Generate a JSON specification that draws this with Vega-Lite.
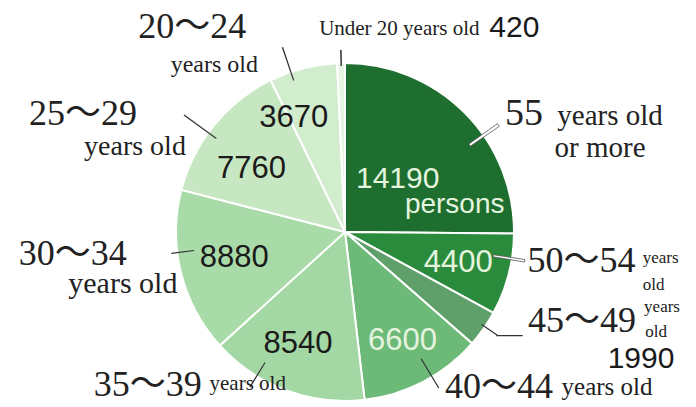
{
  "$schema": "https://vega.github.io/schema/vega-lite/v6.json",
  "width": 690,
  "height": 350,
  "autosize": {"type": "none"},
  "padding": {"left": 0, "top": 57, "right": 6, "bottom": 0},
  "background": "white",
  "view": {"stroke": null},
  "data": {
    "values": [
      {"i": 1, "cat": "55+", "value": 14190, "range": "55", "sub1": "years old", "sub2": "or more", "unit": "persons"},
      {"i": 2, "cat": "50-54", "value": 4400, "range": "50～54", "sub1": "years", "sub2": "old", "unit": ""},
      {"i": 3, "cat": "45-49", "value": 1990, "range": "45～49", "sub1": "years", "sub2": "old", "unit": ""},
      {"i": 4, "cat": "40-44", "value": 6600, "range": "40～44", "sub1": "years old", "sub2": "", "unit": ""},
      {"i": 5, "cat": "35-39", "value": 8540, "range": "35～39", "sub1": "years old", "sub2": "", "unit": ""},
      {"i": 6, "cat": "30-34", "value": 8880, "range": "30～34", "sub1": "years old", "sub2": "", "unit": ""},
      {"i": 7, "cat": "25-29", "value": 7760, "range": "25～29", "sub1": "years old", "sub2": "", "unit": ""},
      {"i": 8, "cat": "20-24", "value": 3670, "range": "20～24", "sub1": "years old", "sub2": "", "unit": ""},
      {"i": 9, "cat": "Under 20", "value": 420, "range": "Under 20 years old", "sub1": "", "sub2": "", "unit": ""}
    ]
  },
  "encoding": {
    "theta": {"field": "value", "type": "quantitative", "stack": true},
    "order": {"field": "i", "type": "quantitative", "sort": "ascending"},
    "detail": {"field": "cat", "type": "nominal"}
  },
  "layer": [
    {"mark": {"type": "arc", "radius": 169, "stroke": "white", "strokeWidth": 2},
     "encoding": {"color": {"field": "cat", "type": "nominal", "legend": null,
       "scale": {"domain": ["55+", "50-54", "45-49", "40-44", "35-39", "30-34", "25-29", "20-24", "Under 20"],
                 "range": ["#1e6e30", "#2b8b3d", "#5f9f69", "#6db978", "#a3d7a3", "#a9dba8", "#c6e7c1", "#d2ecce", "#e6f4e2"]}}}},

    {"transform": [{"stack": "value", "groupby": [], "sort": [{"field": "i", "order": "ascending"}], "as": ["s0", "s1"]}, {"filter": "datum.cat==='55+'"}],
     "mark": {"type": "arc", "radius": 187, "radius2": 152, "thetaOffset": 0.95295, "theta2Offset": 0.97040, "color": "white", "stroke": "#555", "strokeWidth": 0.8},
     "encoding": {"theta": {"field": "s0", "type": "quantitative", "stack": null}, "theta2": {"field": "s0"}}},
    {"transform": [{"stack": "value", "groupby": [], "sort": [{"field": "i", "order": "ascending"}], "as": ["s0", "s1"]}, {"filter": "datum.cat==='50-54'"}],
     "mark": {"type": "arc", "radius": 182, "radius2": 150, "thetaOffset": 0.14322, "theta2Offset": 0.15718, "color": "white", "stroke": "#555", "strokeWidth": 0.8},
     "encoding": {"theta": {"field": "s0", "type": "quantitative", "stack": null}, "theta2": {"field": "s0"}}},
    {"transform": [{"stack": "value", "groupby": [], "sort": [{"field": "i", "order": "ascending"}], "as": ["s0", "s1"]}, {"filter": "datum.cat==='45-49'"}],
     "mark": {"type": "arc", "radius": 184, "radius2": 165, "thetaOffset": 0.09331, "theta2Offset": 0.10029, "color": "#333"},
     "encoding": {"theta": {"field": "s0", "type": "quantitative", "stack": null}, "theta2": {"field": "s0"}}},
    {"transform": [{"stack": "value", "groupby": [], "sort": [{"field": "i", "order": "ascending"}], "as": ["s0", "s1"]}, {"filter": "datum.cat==='40-44'"}],
     "mark": {"type": "arc", "radius": 182, "radius2": 148, "thetaOffset": 0.30639, "theta2Offset": 0.31337, "color": "#333"},
     "encoding": {"theta": {"field": "s0", "type": "quantitative", "stack": null}, "theta2": {"field": "s0"}}},
    {"transform": [{"stack": "value", "groupby": [], "sort": [{"field": "i", "order": "ascending"}], "as": ["s0", "s1"]}, {"filter": "datum.cat==='35-39'"}],
     "mark": {"type": "arc", "radius": 182, "radius2": 153, "thetaOffset": 0.66259, "theta2Offset": 0.66958, "color": "#333"},
     "encoding": {"theta": {"field": "s0", "type": "quantitative", "stack": null}, "theta2": {"field": "s0"}}},
    {"transform": [{"stack": "value", "groupby": [], "sort": [{"field": "i", "order": "ascending"}], "as": ["s0", "s1"]}, {"filter": "datum.cat==='30-34'"}],
     "mark": {"type": "arc", "radius": 175, "radius2": 152, "thetaOffset": 0.61090, "theta2Offset": 0.61788, "color": "#333"},
     "encoding": {"theta": {"field": "s0", "type": "quantitative", "stack": null}, "theta2": {"field": "s0"}}},
    {"transform": [{"stack": "value", "groupby": [], "sort": [{"field": "i", "order": "ascending"}], "as": ["s0", "s1"]}, {"filter": "datum.cat==='25-29'"}],
     "mark": {"type": "arc", "radius": 199, "radius2": 159, "thetaOffset": 0.37301, "theta2Offset": 0.37999, "color": "#333"},
     "encoding": {"theta": {"field": "s0", "type": "quantitative", "stack": null}, "theta2": {"field": "s0"}}},
    {"transform": [{"stack": "value", "groupby": [], "sort": [{"field": "i", "order": "ascending"}], "as": ["s0", "s1"]}, {"filter": "datum.cat==='20-24'"}],
     "mark": {"type": "arc", "radius": 195, "radius2": 160, "thetaOffset": 0.12538, "theta2Offset": 0.13237, "color": "#333"},
     "encoding": {"theta": {"field": "s0", "type": "quantitative", "stack": null}, "theta2": {"field": "s0"}}},
    {"transform": [{"stack": "value", "groupby": [], "sort": [{"field": "i", "order": "ascending"}], "as": ["s0", "s1"]}, {"filter": "datum.cat==='Under 20'"}],
     "mark": {"type": "arc", "radius": 182, "radius2": 166, "thetaOffset": 0.01970, "theta2Offset": 0.02843, "color": "#333"},
     "encoding": {"theta": {"field": "s0", "type": "quantitative", "stack": null}, "theta2": {"field": "s0"}}},
    {"mark": {"type": "text", "radius": 200, "dx": 0.5, "dy": -4, "align": "center", "baseline": "alphabetic", "font": "Liberation Serif", "fontSize": 26, "color": "#333"},
     "encoding": {"text": {"condition": {"test": "datum.cat==='45-49'", "value": "—"}, "value": ""}}},

    {"mark": {"type": "text", "radius": 70, "dx": 3, "dy": 5, "align": "center", "baseline": "alphabetic", "font": "Liberation Sans, sans-serif", "fontSize": 30, "color": "#e4f4df"},
     "encoding": {"text": {"condition": {"test": "datum.cat==='55+'", "field": "value", "type": "nominal"}, "value": ""}}},
    {"mark": {"type": "text", "radius": 70, "dx": 60, "dy": 30, "align": "center", "baseline": "alphabetic", "font": "Liberation Sans, sans-serif", "fontSize": 28, "color": "#e4f4df"},
     "encoding": {"text": {"condition": {"test": "datum.cat==='55+'", "field": "unit", "type": "nominal"}, "value": ""}}},
    {"mark": {"type": "text", "radius": 115, "dx": 2, "dy": 11, "align": "center", "baseline": "alphabetic", "font": "Liberation Sans, sans-serif", "fontSize": 31, "color": "#e4f4df"},
     "encoding": {"text": {"condition": {"test": "datum.cat==='50-54'", "field": "value", "type": "nominal"}, "value": ""}}},
    {"mark": {"type": "text", "radius": 128, "dx": -2, "dy": 5, "align": "center", "baseline": "alphabetic", "font": "Liberation Sans, sans-serif", "fontSize": 31, "color": "#e4f4df"},
     "encoding": {"text": {"condition": {"test": "datum.cat==='40-44'", "field": "value", "type": "nominal"}, "value": ""}}},
    {"mark": {"type": "text", "radius": 125, "dx": -3, "dy": 4, "align": "center", "baseline": "alphabetic", "font": "Liberation Sans, sans-serif", "fontSize": 31, "color": "#1a1a1a"},
     "encoding": {"text": {"condition": {"test": "datum.cat==='35-39'", "field": "value", "type": "nominal"}, "value": ""}}},
    {"mark": {"type": "text", "radius": 112, "dx": -2, "dy": 8, "align": "center", "baseline": "alphabetic", "font": "Liberation Sans, sans-serif", "fontSize": 31, "color": "#1a1a1a"},
     "encoding": {"text": {"condition": {"test": "datum.cat==='30-34'", "field": "value", "type": "nominal"}, "value": ""}}},
    {"mark": {"type": "text", "radius": 105, "dx": -12, "dy": 12, "align": "center", "baseline": "alphabetic", "font": "Liberation Sans, sans-serif", "fontSize": 31, "color": "#1a1a1a"},
     "encoding": {"text": {"condition": {"test": "datum.cat==='25-29'", "field": "value", "type": "nominal"}, "value": ""}}},
    {"mark": {"type": "text", "radius": 110, "dx": -24, "dy": 2, "align": "center", "baseline": "alphabetic", "font": "Liberation Sans, sans-serif", "fontSize": 31, "color": "#1a1a1a"},
     "encoding": {"text": {"condition": {"test": "datum.cat==='20-24'", "field": "value", "type": "nominal"}, "value": ""}}},
    {"mark": {"type": "text", "radius": 200, "dx": 132, "dy": 22, "align": "center", "baseline": "alphabetic", "font": "Liberation Sans, sans-serif", "fontSize": 30, "color": "#1a1a1a"},
     "encoding": {"text": {"condition": {"test": "datum.cat==='45-49'", "field": "value", "type": "nominal"}, "value": ""}}},
    {"mark": {"type": "text", "radius": 200, "dx": 174, "dy": 5, "align": "center", "baseline": "alphabetic", "font": "Liberation Sans, sans-serif", "fontSize": 30, "color": "#1a1a1a"},
     "encoding": {"text": {"condition": {"test": "datum.cat==='Under 20'", "field": "value", "type": "nominal"}, "value": ""}}},

    {"mark": {"type": "text", "radius": 200, "dx": 37, "dy": 34, "align": "center", "baseline": "alphabetic", "font": "Liberation Serif, 'Noto Sans CJK JP', serif", "fontSize": 38, "color": "#222"},
     "encoding": {"text": {"condition": {"test": "datum.cat==='55+'", "field": "range", "type": "nominal"}, "value": ""}}},
    {"mark": {"type": "text", "radius": 200, "dx": 43, "dy": -10, "align": "center", "baseline": "alphabetic", "font": "Liberation Serif, 'Noto Sans CJK JP', serif", "fontSize": 36, "color": "#222"},
     "encoding": {"text": {"condition": {"test": "datum.cat==='50-54'", "field": "range", "type": "nominal"}, "value": ""}}},
    {"mark": {"type": "text", "radius": 200, "dx": 73, "dy": -14, "align": "center", "baseline": "alphabetic", "font": "Liberation Serif, 'Noto Sans CJK JP', serif", "fontSize": 36, "color": "#222"},
     "encoding": {"text": {"condition": {"test": "datum.cat==='45-49'", "field": "range", "type": "nominal"}, "value": ""}}},
    {"mark": {"type": "text", "radius": 200, "dx": 61, "dy": -11, "align": "center", "baseline": "alphabetic", "font": "Liberation Serif, 'Noto Sans CJK JP', serif", "fontSize": 36, "color": "#222"},
     "encoding": {"text": {"condition": {"test": "datum.cat==='40-44'", "field": "range", "type": "nominal"}, "value": ""}}},
    {"mark": {"type": "text", "radius": 200, "dx": -127, "dy": -23, "align": "center", "baseline": "alphabetic", "font": "Liberation Serif, 'Noto Sans CJK JP', serif", "fontSize": 36, "color": "#222"},
     "encoding": {"text": {"condition": {"test": "datum.cat==='35-39'", "field": "range", "type": "nominal"}, "value": ""}}},
    {"mark": {"type": "text", "radius": 200, "dx": -78, "dy": -15, "align": "center", "baseline": "alphabetic", "font": "Liberation Serif, 'Noto Sans CJK JP', serif", "fontSize": 36, "color": "#222"},
     "encoding": {"text": {"condition": {"test": "datum.cat==='30-34'", "field": "range", "type": "nominal"}, "value": ""}}},
    {"mark": {"type": "text", "radius": 200, "dx": -107, "dy": 19, "align": "center", "baseline": "alphabetic", "font": "Liberation Serif, 'Noto Sans CJK JP', serif", "fontSize": 36, "color": "#222"},
     "encoding": {"text": {"condition": {"test": "datum.cat==='25-29'", "field": "range", "type": "nominal"}, "value": ""}}},
    {"mark": {"type": "text", "radius": 200, "dx": -103, "dy": 0, "align": "center", "baseline": "alphabetic", "font": "Liberation Serif, 'Noto Sans CJK JP', serif", "fontSize": 36, "color": "#222"},
     "encoding": {"text": {"condition": {"test": "datum.cat==='20-24'", "field": "range", "type": "nominal"}, "value": ""}}},
    {"mark": {"type": "text", "radius": 200, "dx": 59, "dy": 3, "align": "center", "baseline": "alphabetic", "font": "Liberation Serif, serif", "fontSize": 21, "color": "#222"},
     "encoding": {"text": {"condition": {"test": "datum.cat==='Under 20'", "field": "range", "type": "nominal"}, "value": ""}}},

    {"mark": {"type": "text", "radius": 200, "dx": 123, "dy": 34, "align": "center", "baseline": "alphabetic", "font": "Liberation Serif, serif", "fontSize": 29, "color": "#222"},
     "encoding": {"text": {"condition": {"test": "datum.cat==='55+'", "field": "sub1", "type": "nominal"}, "value": ""}}},
    {"mark": {"type": "text", "radius": 200, "dx": 113, "dy": 66, "align": "center", "baseline": "alphabetic", "font": "Liberation Serif, serif", "fontSize": 29, "color": "#222"},
     "encoding": {"text": {"condition": {"test": "datum.cat==='55+'", "field": "sub2", "type": "nominal"}, "value": ""}}},
    {"mark": {"type": "text", "radius": 200, "dx": 122, "dy": -19, "align": "center", "baseline": "alphabetic", "font": "Liberation Serif, serif", "fontSize": 17, "color": "#222"},
     "encoding": {"text": {"condition": {"test": "datum.cat==='50-54'", "field": "sub1", "type": "nominal"}, "value": ""}}},
    {"mark": {"type": "text", "radius": 200, "dx": 115, "dy": 8, "align": "center", "baseline": "alphabetic", "font": "Liberation Serif, serif", "fontSize": 17, "color": "#222"},
     "encoding": {"text": {"condition": {"test": "datum.cat==='50-54'", "field": "sub2", "type": "nominal"}, "value": ""}}},
    {"mark": {"type": "text", "radius": 200, "dx": 153, "dy": -34, "align": "center", "baseline": "alphabetic", "font": "Liberation Serif, serif", "fontSize": 17, "color": "#222"},
     "encoding": {"text": {"condition": {"test": "datum.cat==='45-49'", "field": "sub1", "type": "nominal"}, "value": ""}}},
    {"mark": {"type": "text", "radius": 200, "dx": 147, "dy": -9, "align": "center", "baseline": "alphabetic", "font": "Liberation Serif, serif", "fontSize": 17, "color": "#222"},
     "encoding": {"text": {"condition": {"test": "datum.cat==='45-49'", "field": "sub2", "type": "nominal"}, "value": ""}}},
    {"mark": {"type": "text", "radius": 200, "dx": 169, "dy": -14, "align": "center", "baseline": "alphabetic", "font": "Liberation Serif, serif", "fontSize": 25, "color": "#222"},
     "encoding": {"text": {"condition": {"test": "datum.cat==='40-44'", "field": "sub1", "type": "nominal"}, "value": ""}}},
    {"mark": {"type": "text", "radius": 200, "dx": -27, "dy": -29, "align": "center", "baseline": "alphabetic", "font": "Liberation Serif, serif", "fontSize": 21, "color": "#222"},
     "encoding": {"text": {"condition": {"test": "datum.cat==='35-39'", "field": "sub1", "type": "nominal"}, "value": ""}}},
    {"mark": {"type": "text", "radius": 200, "dx": -28, "dy": 13, "align": "center", "baseline": "alphabetic", "font": "Liberation Serif, serif", "fontSize": 30, "color": "#222"},
     "encoding": {"text": {"condition": {"test": "datum.cat==='30-34'", "field": "sub1", "type": "nominal"}, "value": ""}}},
    {"mark": {"type": "text", "radius": 200, "dx": -55, "dy": 49, "align": "center", "baseline": "alphabetic", "font": "Liberation Serif, serif", "fontSize": 28, "color": "#222"},
     "encoding": {"text": {"condition": {"test": "datum.cat==='25-29'", "field": "sub1", "type": "nominal"}, "value": ""}}},
    {"mark": {"type": "text", "radius": 200, "dx": -81, "dy": 34, "align": "center", "baseline": "alphabetic", "font": "Liberation Serif, serif", "fontSize": 24, "color": "#222"},
     "encoding": {"text": {"condition": {"test": "datum.cat==='20-24'", "field": "sub1", "type": "nominal"}, "value": ""}}}
  ]
}
